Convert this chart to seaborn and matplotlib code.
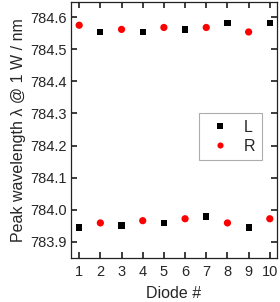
import pandas as pd
import matplotlib
matplotlib.use("Agg")
import matplotlib.pyplot as plt
import seaborn as sns

# peak wavelength at 1 W
diodes = [1, 2, 3, 4, 5, 6, 7, 8, 9, 10]
L_vals = [783.945, 784.554, 783.951, 784.554, 783.959,
          784.562, 783.979, 784.582, 783.945, 784.582]
R_vals = [784.575, 783.959, 784.562, 783.966, 784.568,
          783.972, 784.568, 783.959, 784.554, 783.972]
y_ticks = [783.9, 784.0, 784.1, 784.2, 784.3, 784.4, 784.5, 784.6]

df = pd.DataFrame({
    "Diode": diodes * 2,
    "Wavelength": L_vals + R_vals,
    "Side": ["L"] * len(diodes) + ["R"] * len(diodes),
})

sns.set_theme(style="ticks")
plt.rcParams["font.family"] = ["Liberation Sans", "DejaVu Sans"]
plt.rcParams.update({
    "xtick.direction": "in",
    "ytick.direction": "in",
    "xtick.top": True,
    "ytick.right": True,
    "xtick.major.size": 4,
    "ytick.major.size": 4,
    "axes.edgecolor": "#222222",
    "axes.linewidth": 0.9,
})

fig = plt.figure(figsize=(2.8, 3.02), dpi=100)
ax = fig.add_axes([0.2525, 0.146, 0.7375, 0.847])

sns.scatterplot(
    data=df, x="Diode", y="Wavelength",
    hue="Side", style="Side", size="Side",
    palette={"L": "black", "R": "#ff0000"},
    markers={"L": "s", "R": "o"},
    sizes={"L": 20, "R": 27},
    linewidth=0, ax=ax,
)

ax.set_xlim(0.6, 10.35)
ax.set_ylim(783.85, 784.647)
ax.set_xticks(diodes)
ax.set_yticks(y_ticks)
ax.set_yticklabels([f"{v:.1f}" for v in y_ticks])
ax.tick_params(axis="x", labelsize=10.5, pad=5)
ax.tick_params(axis="y", labelsize=10.5, pad=3)
ax.set_xlabel("Diode #", fontsize=11.5, labelpad=5)
ax.set_ylabel("Peak wavelength \u03bb @ 1 W / nm", fontsize=11.5, labelpad=3)

handles, labels = ax.get_legend_handles_labels()
leg = ax.legend(handles, labels, loc="upper right",
                bbox_to_anchor=(0.924, 0.565), borderaxespad=0,
                fontsize=11.5, frameon=True, fancybox=False,
                edgecolor="#999999",
                handlelength=1.8, handletextpad=0.6,
                borderpad=0.4, labelspacing=0.25, markerscale=0.85)
leg.get_frame().set_linewidth(0.8)

fig.savefig("out.png", dpi=100)
